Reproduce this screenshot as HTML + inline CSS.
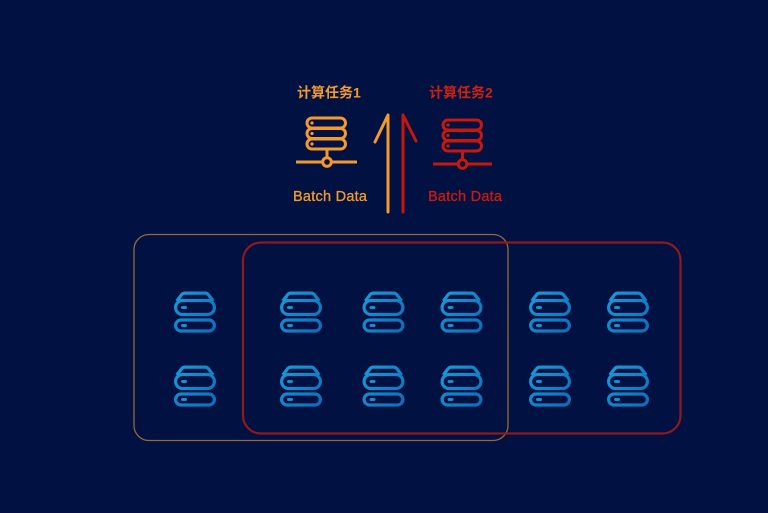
<!DOCTYPE html>
<html><head><meta charset="utf-8"><style>
html,body{margin:0;padding:0;background:#011141;}
svg{display:block;}
</style></head><body>
<svg width="768" height="513" viewBox="0 0 768 513" xmlns="http://www.w3.org/2000/svg">
<defs>
<linearGradient id="bl" gradientUnits="userSpaceOnUse" x1="0" y1="0" x2="42" y2="40">
<stop offset="0" stop-color="#1b9bd9"/><stop offset="1" stop-color="#0d6db9"/>
</linearGradient>
<g id="drv" fill="none" stroke="url(#bl)" stroke-width="3.2" stroke-linejoin="round">
<path d="M2.8 9.5 L7.8 3 Q9 1.6 11 1.6 H31 Q33 1.6 34.2 3 L39.2 9.5"/>
<rect x="1.6" y="9" width="38.8" height="14" rx="7"/>
<rect x="1.6" y="28.5" width="38.8" height="11" rx="5.5"/>
<rect x="7" y="14.5" width="6" height="3" rx="1.5" fill="#1590d2" stroke="none"/>
<rect x="7" y="32.5" width="6" height="3" rx="1.5" fill="#1590d2" stroke="none"/>
</g>
</defs>
<rect width="768" height="513" fill="#011141"/>

<!-- boxes -->
<rect x="134" y="234.5" width="374" height="206" rx="15" fill="none" stroke="#94683e" stroke-width="1.3"/>
<rect x="243" y="242.5" width="437.5" height="191" rx="18" fill="none" stroke="#8e1a1e" stroke-width="2.2"/>

<!-- drives -->
<use href="#drv" x="174" y="291.5"/>
<use href="#drv" x="280" y="291.5"/>
<use href="#drv" x="362.5" y="291.5"/>
<use href="#drv" x="440.5" y="291.5"/>
<use href="#drv" x="529" y="291.5"/>
<use href="#drv" x="607" y="291.5"/>
<use href="#drv" x="174" y="365.5"/>
<use href="#drv" x="280" y="365.5"/>
<use href="#drv" x="362.5" y="365.5"/>
<use href="#drv" x="440.5" y="365.5"/>
<use href="#drv" x="529" y="365.5"/>
<use href="#drv" x="607" y="365.5"/>

<!-- orange server -->
<g fill="none" stroke="#f29a2c" stroke-width="3">
<rect x="307" y="118" width="38.5" height="10" rx="5"/>
<rect x="307" y="128.5" width="38.5" height="10" rx="5"/>
<rect x="307" y="139" width="38.5" height="10" rx="5"/>
<line x1="327" y1="149" x2="327" y2="157.5"/>
<circle cx="327" cy="162" r="4.3"/>
<line x1="296" y1="162" x2="322.5" y2="162"/>
<line x1="331.5" y1="162" x2="357" y2="162"/>
</g>
<g fill="#f3a030"><circle cx="312" cy="123" r="1.6"/><circle cx="312" cy="133.5" r="1.6"/><circle cx="312" cy="144" r="1.6"/></g>

<!-- red server -->
<g fill="none" stroke="#c8180d" stroke-width="3">
<rect x="443" y="120" width="38.5" height="10" rx="5"/>
<rect x="443" y="130.5" width="38.5" height="10" rx="5"/>
<rect x="443" y="141" width="38.5" height="10" rx="5"/>
<line x1="462.5" y1="151" x2="462.5" y2="159.5"/>
<circle cx="462.5" cy="164" r="4.3"/>
<line x1="433" y1="164" x2="458" y2="164"/>
<line x1="467" y1="164" x2="492" y2="164"/>
</g>
<g fill="#cc1a0e"><circle cx="448" cy="125" r="1.6"/><circle cx="448" cy="135.5" r="1.6"/><circle cx="448" cy="146" r="1.6"/></g>

<!-- arrows -->
<g fill="none" stroke-width="3" stroke-linecap="round" stroke-linejoin="round">
<path d="M375 142 L388 115 L388 212" stroke="#f39a2c"/>
<path d="M416 141 L403 115 L403 212" stroke="#c8150c"/>
</g>

<!-- text -->
<text x="297" y="97.5" font-family="Liberation Sans, Noto Sans CJK SC, sans-serif" font-size="14" font-weight="bold" fill="#f29a2c">计算任务1</text>
<text x="429" y="97.5" font-family="Liberation Sans, Noto Sans CJK SC, sans-serif" font-size="14" font-weight="bold" fill="#d0200f">计算任务2</text>
<text x="293" y="201" font-family="Liberation Sans, sans-serif" font-size="14.5" fill="#f29a2c" stroke="#f29a2c" stroke-width="0.3" textLength="74">Batch Data</text>
<text x="428" y="201" font-family="Liberation Sans, sans-serif" font-size="14.5" fill="#cc1a0e" stroke="#cc1a0e" stroke-width="0.3" textLength="74">Batch Data</text>
</svg>
</body></html>
